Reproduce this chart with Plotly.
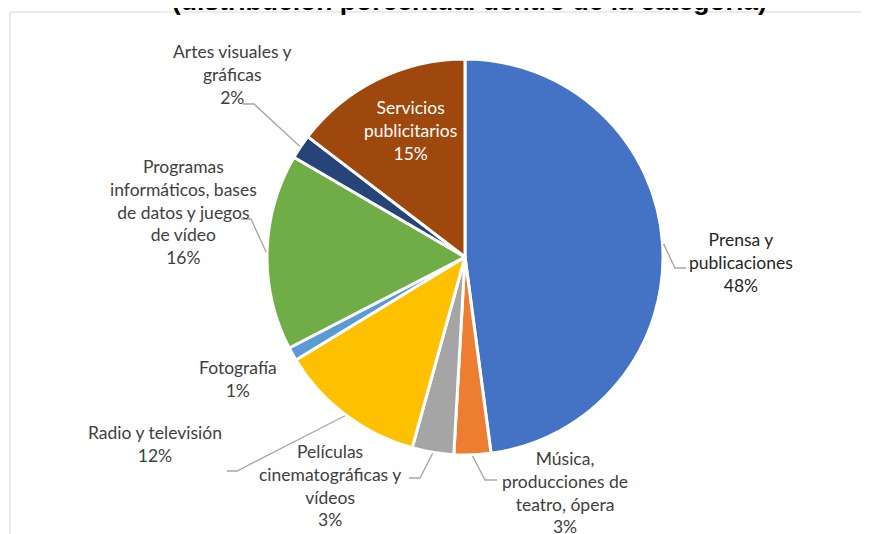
import math
import plotly.graph_objects as go

# Participación por categoría (porcentaje)
categorias = ["Prensa y publicaciones", "Música, producciones de teatro, ópera",
              "Películas cinematográficas y vídeos", "Radio y televisión", "Fotografía",
              "Programas informáticos, bases de datos y juegos de vídeo",
              "Artes visuales y gráficas", "Servicios publicitarios"]
etiquetas = ["Prensa y<br>publicaciones", "Música,<br>producciones de<br>teatro, ópera",
             "Películas<br>cinematográficas y<br>vídeos", "Radio y televisión", "Fotografía",
             "Programas<br>informáticos, bases<br>de datos y juegos<br>de vídeo",
             "Artes visuales y<br>gráficas", "Servicios<br>publicitarios"]
valores = [47.9, 3.0, 3.4, 12.0, 1.1, 16.0, 2.0, 14.6]
colores = ["#4472C4", "#ED7D31", "#A5A5A5", "#FFC000", "#5B9BD5", "#70AD47", "#264478", "#9E480E"]
titulo = "(distribución porcentual dentro de la categoría)"

W, H = 869, 534
OFF = 8  # page body margin
CX, CY, R = 465, 257, 198

# label block centers (screen px) and leader elbows (screen px)
label_xy = [(741, 263), (565, 492), (330, 485), (155, 444), (238, 379), (183, 212), (232, 75), (410, 130)]
leaders = [[(675, 268), (686, 268)], [(485, 480), (497, 480)], [(420, 478), (409, 478)],
           [(237, 471), (227, 471)], None, [(251, 219), (241, 219)], [(254, 104), (243, 104)], None]


def px(x, y):
    return (x - OFF) / W, 1 - (y - OFF) / H


fig = go.Figure(go.Pie(labels=categorias, values=valores, sort=False, direction="clockwise",
                       rotation=0, textinfo="none", hoverinfo="label+percent",
                       marker=dict(colors=colores, line=dict(color="white", width=3)),
                       domain=dict(x=[px(CX - R, 0)[0], px(CX + R, 0)[0]],
                                   y=[px(0, CY + R)[1], px(0, CY - R)[1]])))

total = sum(valores)
acum = 0
for i, v in enumerate(valores):
    mid = math.radians((acum + v / 2) / total * 360)
    acum += v
    texto = etiquetas[i] + "<br>" + f"{v / total:.0%}"
    color = "white" if i == 7 else ("#262626" if i == 0 else "#404040")
    lx, ly = px(*label_xy[i])
    fig.add_annotation(x=lx, y=ly, xref="paper", yref="paper", text=texto, showarrow=False,
                       xanchor="center", yanchor="middle", align="center",
                       font=dict(family="Lato", size=17.5, color=color))
    if leaders[i]:
        pts = [(CX + (R + 1) * math.sin(mid), CY - (R + 1) * math.cos(mid))] + leaders[i]
        path = "M " + " L ".join(f"{px(a, b)[0]:.5f},{px(a, b)[1]:.5f}" for a, b in pts)
        fig.add_shape(type="path", path=path, xref="paper", yref="paper",
                      line=dict(color="#A6A6A6", width=1.3))

# chart border (cut at right and bottom)
bx, by = px(10, 12)
fig.add_shape(type="rect", xref="paper", yref="paper", x0=bx, y0=-0.05, x1=1.05, y1=by,
              line=dict(color="#D9D9D9", width=1), layer="below")

tx, ty = px(470, 1)
fig.add_annotation(x=tx, y=ty, xref="paper", yref="paper", text="<b>" + titulo + "</b>",
                   showarrow=False, xanchor="center", yanchor="middle",
                   font=dict(family="Liberation Sans", size=26.5, color="black"))

fig.update_layout(width=W, height=H, margin=dict(l=0, r=0, t=0, b=0), showlegend=False,
                  paper_bgcolor="white", plot_bgcolor="white")
fig.write_html("out.html")
